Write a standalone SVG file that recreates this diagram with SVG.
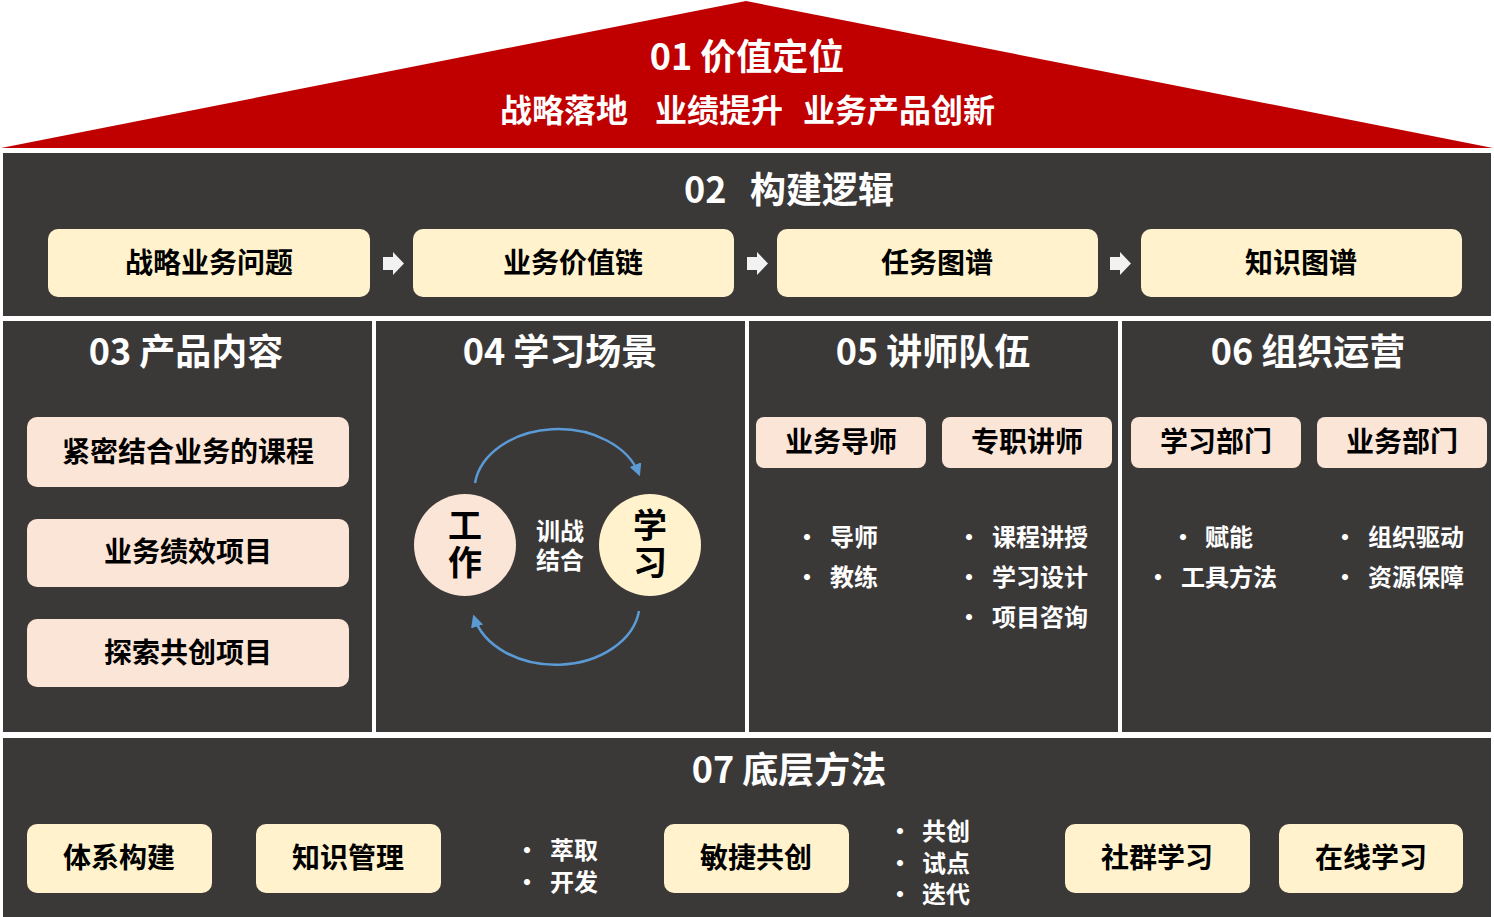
<svg xmlns="http://www.w3.org/2000/svg" width="1494" height="917" viewBox="0 0 1494 917">
<defs>
<style>
text{font-family:"Noto Sans CJK SC","Liberation Sans",sans-serif;font-weight:700;dominant-baseline:central;}
.panel{fill:#3B3838;}
.cream{fill:#FFF2CC;}
.peach{fill:#FBE5D6;}
.title{fill:#FFFFFF;font-size:36px;text-anchor:middle;}
.lbl{fill:#000000;font-size:28px;text-anchor:middle;}
.big{fill:#000000;font-size:34px;text-anchor:middle;}
.w24{fill:#FFFFFF;font-size:24px;}
.mid{text-anchor:middle;}
.blk{fill:#F2F2F2;}
.arc{fill:none;stroke:#5B9BD5;stroke-width:2.5;}
</style>
<marker id="ah" viewBox="0 0 10 10" refX="8" refY="5" markerWidth="5" markerHeight="5" orient="auto" markerUnits="strokeWidth">
<path d="M0,0 L10,5 L0,10 z" fill="#5B9BD5"/>
</marker>
</defs>
<rect width="1494" height="917" fill="#FFFFFF"/>

<g id="n01">
<polygon points="1,148 746,1 1493,148" fill="#C00000"/>
<text class="title" x="747" y="54">01 价值定位</text>
<text x="500" y="108" style="fill:#FFFFFF;font-size:32px">战略落地</text>
<text x="655" y="108" style="fill:#FFFFFF;font-size:32px">业绩提升</text>
<text x="803" y="108" style="fill:#FFFFFF;font-size:32px">业务产品创新</text>
</g>

<g id="n02">
<rect class="panel" x="3" y="153" width="1488" height="163"/>
<text x="684" y="187" style="fill:#FFFFFF;font-size:36px">02<tspan x="750">构建逻辑</tspan></text>
<g id="n02a"><rect class="cream" x="48" y="229" width="322" height="68" rx="10"/><text class="lbl" x="209" y="261">战略业务问题</text></g>
<g id="n02b"><rect class="cream" x="413" y="229" width="321" height="68" rx="10"/><text class="lbl" x="573" y="261">业务价值链</text></g>
<g id="n02c"><rect class="cream" x="777" y="229" width="321" height="68" rx="10"/><text class="lbl" x="937" y="261">任务图谱</text></g>
<g id="n02d"><rect class="cream" x="1141" y="229" width="321" height="68" rx="10"/><text class="lbl" x="1301" y="261">知识图谱</text></g>
</g>

<g id="n03">
<rect class="panel" x="3" y="321" width="369" height="411"/>
<text class="title" x="186" y="349">03 产品内容</text>
<g id="n03a"><rect class="peach" x="27" y="417" width="322" height="70" rx="10"/><text class="lbl" x="188" y="450">紧密结合业务的课程</text></g>
<g id="n03b"><rect class="peach" x="27" y="519" width="322" height="68" rx="10"/><text class="lbl" x="188" y="550">业务绩效项目</text></g>
<g id="n03c"><rect class="peach" x="27" y="619" width="322" height="68" rx="10"/><text class="lbl" x="188" y="651">探索共创项目</text></g>
</g>

<g id="n04">
<rect class="panel" x="376" y="321" width="369" height="411"/>
<text class="title" x="560" y="349">04 学习场景</text>
<g id="n04a"><circle class="peach" cx="465" cy="545" r="51"/><text class="big" x="465" y="545" writing-mode="vertical-rl" letter-spacing="3">工作</text></g>
<g id="n04b"><circle class="cream" cx="650" cy="545" r="51"/><text class="big" x="650" y="545" writing-mode="vertical-rl" letter-spacing="3">学习</text></g>
<text class="w24 mid"><tspan x="560" y="529">训战</tspan><tspan x="560" y="558">结合</tspan></text>
</g>

<g id="n05">
<rect class="panel" x="749" y="321" width="369" height="411"/>
<text class="title" x="933" y="349">05 讲师队伍</text>
<g id="n05a"><rect class="peach" x="756" y="417" width="170" height="51" rx="8"/><text class="lbl" x="841" y="440">业务导师</text></g>
<g id="n05b"><rect class="peach" x="942" y="417" width="170" height="51" rx="8"/><text class="lbl" x="1027" y="440">专职讲师</text></g>
<text class="w24"><tspan x="795" y="535">•</tspan><tspan x="830" y="535">导师</tspan><tspan x="795" y="575">•</tspan><tspan x="830" y="575">教练</tspan></text>
<text class="w24"><tspan x="957" y="535">•</tspan><tspan x="992" y="535">课程讲授</tspan><tspan x="957" y="575">•</tspan><tspan x="992" y="575">学习设计</tspan><tspan x="957" y="615">•</tspan><tspan x="992" y="615">项目咨询</tspan></text>
</g>

<g id="n06">
<rect class="panel" x="1122" y="321" width="369" height="411"/>
<text class="title" x="1308" y="349">06 组织运营</text>
<g id="n06a"><rect class="peach" x="1131" y="417" width="170" height="51" rx="8"/><text class="lbl" x="1216" y="440">学习部门</text></g>
<g id="n06b"><rect class="peach" x="1317" y="417" width="170" height="51" rx="8"/><text class="lbl" x="1402" y="440">业务部门</text></g>
<text class="w24"><tspan x="1171" y="535">•</tspan><tspan x="1205" y="535">赋能</tspan><tspan x="1146" y="575">•</tspan><tspan x="1181" y="575">工具方法</tspan></text>
<text class="w24"><tspan x="1333" y="535">•</tspan><tspan x="1368" y="535">组织驱动</tspan><tspan x="1333" y="575">•</tspan><tspan x="1368" y="575">资源保障</tspan></text>
</g>

<g id="n07">
<rect class="panel" x="3" y="738" width="1488" height="179"/>
<text class="title" x="789" y="767">07 底层方法</text>
<g id="n07a"><rect class="cream" x="27" y="824" width="185" height="69" rx="10"/><text class="lbl" x="119" y="856">体系构建</text></g>
<g id="n07b"><rect class="cream" x="256" y="824" width="185" height="69" rx="10"/><text class="lbl" x="348" y="856">知识管理</text></g>
<g id="n07c"><rect class="cream" x="664" y="824" width="185" height="69" rx="10"/><text class="lbl" x="756" y="856">敏捷共创</text></g>
<g id="n07d"><rect class="cream" x="1065" y="824" width="185" height="69" rx="10"/><text class="lbl" x="1157" y="856">社群学习</text></g>
<g id="n07e"><rect class="cream" x="1279" y="824" width="184" height="69" rx="10"/><text class="lbl" x="1371" y="856">在线学习</text></g>
<text class="w24"><tspan x="515" y="848">•</tspan><tspan x="550" y="848">萃取</tspan><tspan x="515" y="880">•</tspan><tspan x="550" y="880">开发</tspan></text>
<text class="w24"><tspan x="888" y="829">•</tspan><tspan x="922" y="829">共创</tspan><tspan x="888" y="861">•</tspan><tspan x="922" y="861">试点</tspan><tspan x="888" y="892">•</tspan><tspan x="922" y="892">迭代</tspan></text>
</g>

<g id="connectors">
<path class="blk" d="M383,257 H393 V252 L404,263.5 L393,275 V270 H383 Z"/>
<path class="blk" d="M747,257 H757 V252 L768,263.5 L757,275 V270 H747 Z"/>
<path class="blk" d="M1110,257 H1120 V252 L1131,263.5 L1120,275 V270 H1110 Z"/>
<path class="arc" d="M475,483 A84,62 0 0 1 639,474" marker-end="url(#ah)"/>
<path class="arc" d="M639,611 A84,62 0 0 1 474,617" marker-end="url(#ah)"/>
</g>
</svg>
